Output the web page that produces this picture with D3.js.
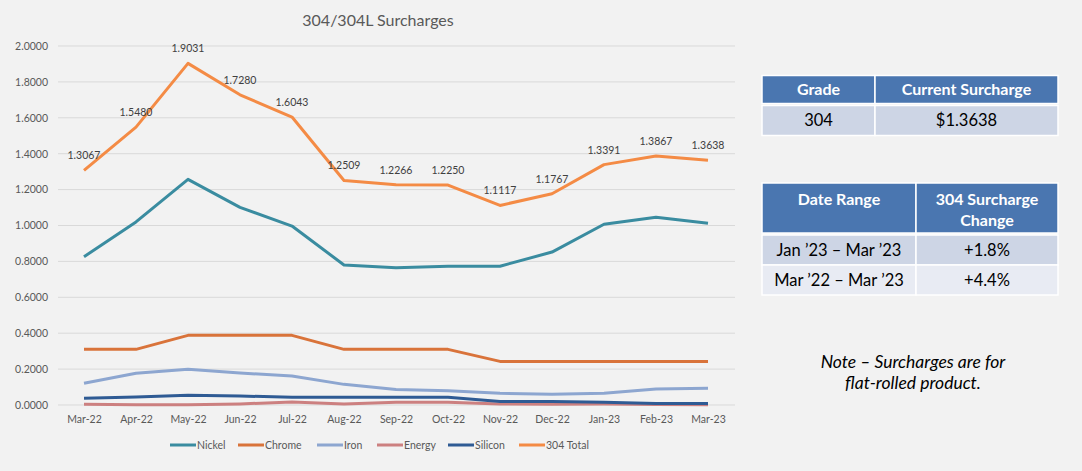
<!DOCTYPE html>
<html><head><meta charset="utf-8">
<script src="https://cdn.jsdelivr.net/npm/d3@7/dist/d3.min.js"></script>
<style>
body{margin:0;background:#f2f2f2;}
svg{display:block;font-family:Lato,"Open Sans",sans-serif;}
</style></head><body>
<svg id="c" width="1082" height="471"></svg>
<script>
const months = ["Mar-22","Apr-22","May-22","Jun-22","Jul-22","Aug-22","Sep-22","Oct-22","Nov-22","Dec-22","Jan-23","Feb-23","Mar-23"];
const nickel = [0.826,1.020,1.257,1.101,0.997,0.780,0.765,0.773,0.773,0.852,1.007,1.046,1.012];
const chrome = [0.310,0.310,0.388,0.388,0.388,0.310,0.310,0.310,0.243,0.243,0.243,0.243,0.243];
const iron = [0.121,0.177,0.199,0.178,0.162,0.115,0.087,0.080,0.065,0.060,0.065,0.089,0.093];
const energy = [0.004,0.001,0.001,0.006,0.017,0.006,0.015,0.015,0.006,0.004,0.006,0.003,0.002];
const silicon = [0.037,0.045,0.054,0.050,0.043,0.043,0.043,0.043,0.019,0.019,0.015,0.009,0.009];
const total304 = [1.3067,1.5480,1.9031,1.7280,1.6043,1.2509,1.2266,1.2250,1.1117,1.1767,1.3391,1.3867,1.3638];
const yTicks = [0,0.2,0.4,0.6,0.8,1.0,1.2,1.4,1.6,1.8,2.0];
const seriesNames = ["Nickel","Chrome","Iron","Energy","Silicon","304 Total"];
const seriesColors = ["#3a8ca0","#d9733a","#8da6d0","#cc8080","#2f5b94","#f48b45"];
const table1Head = ["Grade","Current Surcharge"];
const table1Rows = [["304","$1.3638"]];
const table2Head = [["Date Range"],["304 Surcharge","Change"]];
const table2Rows = [["Jan \u201923 \u2013 Mar \u201923","+1.8%"],["Mar \u201922 \u2013 Mar \u201923","+4.4%"]];
const noteLines = ["Note \u2013 Surcharges are for","flat-rolled product."];
const title = "304/304L Surcharges";

const seriesData = [nickel,chrome,iron,energy,silicon,total304];
const svg = d3.select("#c");
const x = d3.scalePoint().domain(months).range([58,734]).padding(0.5);
const y = d3.scaleLinear().domain([0,2]).range([405,46]);

svg.append("text").attr("x",378).attr("y",26).attr("text-anchor","middle")
  .attr("font-size",16).attr("fill","#595959").text(title);

svg.append("g").selectAll("line").data(yTicks).join("line")
  .attr("x1",58).attr("x2",735).attr("y1",d=>y(d)).attr("y2",d=>y(d))
  .attr("stroke","#d9d9d9").attr("stroke-width",1);

const ya = svg.append("g").attr("transform","translate(58,0)")
  .call(d3.axisLeft(y).tickValues(yTicks).tickFormat(d3.format(".4f")).tickSize(0).tickPadding(10));
ya.select(".domain").remove();
ya.selectAll("text").attr("font-size",10.5).attr("fill","#595959").attr("font-family","Lato,sans-serif");

const xa = svg.append("g").attr("transform","translate(0,405)")
  .call(d3.axisBottom(x).tickSize(0).tickPadding(11));
xa.select(".domain").remove();
xa.selectAll("text").attr("font-size",10.5).attr("fill","#595959").attr("font-family","Lato,sans-serif");

const line = d3.line().x((d,i)=>x(months[i])).y(d=>y(d));
const order = [3,4,2,1,0,5];
order.forEach(k=>{
  svg.append("path").datum(seriesData[k]).attr("d",line).attr("fill","none")
    .attr("stroke",seriesColors[k]).attr("stroke-width",3).attr("stroke-linejoin","round");
});

svg.append("g").selectAll("text").data(total304).join("text")
  .attr("x",(d,i)=>x(months[i])).attr("y",d=>y(d)-11)
  .attr("text-anchor","middle").attr("font-size",10.5).attr("fill","#404040").text(d=>d.toFixed(4));

const legX = [170,238,317,377,448,519];
const lg = svg.append("g");
seriesNames.forEach((n,i)=>{
  lg.append("line").attr("x1",legX[i]).attr("x2",legX[i]+26).attr("y1",445).attr("y2",445)
    .attr("stroke",seriesColors[i]).attr("stroke-width",3);
  lg.append("text").attr("x",legX[i]+27).attr("y",449).attr("font-size",10.5).attr("fill","#595959").text(n);
});

const hdr="#4a76b0", rowA="#cdd5e5", rowB="#e8ebf3";
function cell(x0,y0,w,h,fill,lines,bold,color,fs,topY){
  svg.append("rect").attr("x",x0).attr("y",y0).attr("width",w).attr("height",h).attr("fill",fill)
    .attr("stroke","#ffffff").attr("stroke-width",1.5);
  const lh = fs*1.3;
  const startY = topY!==undefined ? topY : y0+h/2 - (lines.length-1)*lh/2 + fs*0.35;
  lines.forEach((t,i)=>{
    svg.append("text").attr("x",x0+w/2).attr("y",startY+i*lh).attr("text-anchor","middle")
      .attr("font-size",fs).attr("font-weight",bold?"bold":"normal").attr("fill",color).text(t);
  });
}
cell(762,75.5,113,28,hdr,[table1Head[0]],true,"#fff",16);
cell(875,75.5,183,28,hdr,[table1Head[1]],true,"#fff",16);
cell(762,105.5,113,30,rowA,[table1Rows[0][0]],false,"#000",16.5);
cell(875,105.5,183,30,rowA,[table1Rows[0][1]],false,"#000",16.5);

cell(762,183,154,50,hdr,table2Head[0],true,"#fff",16,205);
cell(916,183,142,50,hdr,table2Head[1],true,"#fff",16,205);
table2Rows.forEach((r,i)=>{
  const yy = 235+i*30;
  const f = i===0?rowA:rowB;
  cell(762,yy,154,30,f,[r[0]],false,"#000",16.5);
  cell(916,yy,142,30,f,[r[1]],false,"#000",16.5);
});

noteLines.forEach((t,i)=>{
  svg.append("text").attr("x",913).attr("y",368+i*21).attr("text-anchor","middle")
    .attr("font-size",17.5).attr("font-style","italic").attr("fill","#000").text(t);
});
</script></body></html>
